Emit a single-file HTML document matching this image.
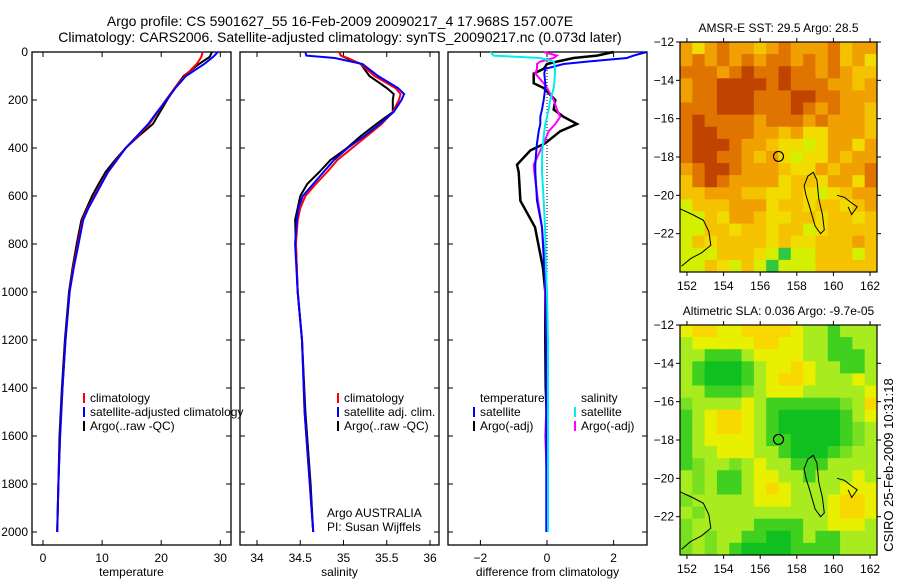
<!DOCTYPE html>
<html><head><meta charset="utf-8">
<style>
body{margin:0;background:#fff;}
svg{display:block;font-family:"Liberation Sans",sans-serif;font-size:12px;}
</style></head>
<body>
<svg id="fig" width="900" height="580" viewBox="0 0 900 580" xmlns="http://www.w3.org/2000/svg">
<rect width="900" height="580" fill="#fff"/>
<text x="340" y="26" text-anchor="middle" font-size="14">Argo profile: CS 5901627_55 16-Feb-2009 20090217_4 17.968S 157.007E</text>
<text x="340" y="42" text-anchor="middle" font-size="14">Climatology: CARS2006. Satellite-adjusted climatology: synTS_20090217.nc (0.073d later)</text>
<g id="plots"></g>
<text x="893" y="465" text-anchor="middle" transform="rotate(-90 893 465)" font-size="13">CSIRO 25-Feb-2009 10:31:18</text>
</svg>
<script>
// ---------- profile data ----------
const depthT = [0,20,50,100,150,200,250,300,350,400,450,500,550,600,650,700,800,900,1000,1200,1400,1600,1800,2000];
const tempClim = [27,26.8,26,24,22.3,20.8,19.4,18,16,14,12.4,11,9.8,8.7,7.6,6.7,5.9,5.1,4.5,3.8,3.3,2.9,2.6,2.4];
const tempSat = [29.6,28.8,27.3,24.2,22.4,20.9,19.3,17.8,15.9,14,12.5,11,9.9,8.8,7.7,6.8,6,5.2,4.5,3.8,3.3,2.9,2.6,2.4];
const tempArgo = [28.6,28.2,26.4,23.8,22.3,21,19.8,18.6,16.2,14,12.2,10.6,9.4,8.3,7.4,6.5,5.7,5,4.4,3.7,3.2,2.8,2.6,2.4];
const depthS = [0,15,25,50,100,150,175,200,250,300,350,400,450,500,550,600,650,700,800,1000,1200,1500,1800,2000];
const salClim = [34.95,34.97,35.05,35.2,35.36,35.6,35.66,35.64,35.57,35.44,35.27,35.1,34.93,34.81,34.68,34.56,34.5,34.47,34.45,34.47,34.52,34.55,34.61,34.65];
const salSat = [34.56,34.57,34.9,35.22,35.4,35.63,35.7,35.67,35.58,35.42,35.24,35.05,34.89,34.77,34.65,34.53,34.48,34.46,34.44,34.47,34.52,34.55,34.61,34.65];
const salArgo = [34.95,34.97,35.03,35.2,35.3,35.5,35.58,35.57,35.57,35.38,35.2,35.04,34.85,34.72,34.58,34.5,34.47,34.44,34.45,34.47,34.52,34.56,34.62,34.65];
const depthD = [0,15,25,40,50,70,90,130,150,200,240,270,300,330,380,410,470,500,620,730,900,1000,1200,1400,1600,1800,2000];
const dTempSat = [3.0,2.6,2.4,1.2,0.5,-0.05,-0.08,-0.05,-0.05,-0.1,-0.15,-0.2,-0.2,-0.25,-0.3,-0.32,-0.35,-0.35,-0.3,-0.15,-0.08,-0.03,-0.02,-0.02,-0.02,-0.02,-0.02];
const dTempArgo = [2.0,1.5,0.8,0.3,0,-0.1,-0.4,-0.4,-0.1,0.25,0.2,0.5,0.9,0.4,-0.05,-0.5,-0.9,-0.85,-0.8,-0.36,-0.12,-0.05,-0.05,-0.04,0.02,0.0,0.0];
const dSalSat = [-1.7,-1.6,-0.2,0.2,0.22,0.24,0.24,0.22,0.2,0.1,0.05,0,-0.05,-0.08,-0.12,-0.14,-0.15,-0.15,-0.1,-0.06,-0.03,0.0,0.03,0.03,0.03,0.03,0.03];
const dSalArgo = [-0.1,0.3,0.2,-0.2,-0.3,-0.3,-0.35,-0.1,0,0.2,0.3,0.4,0.25,0.05,-0.1,-0.2,-0.4,-0.38,-0.27,-0.15,-0.06,-0.05,-0.02,0,-0.05,0,0];
const depthTicks = [0,200,400,600,800,1000,1200,1400,1600,1800,2000];
const tempTicks = [0,10,20,30];
const salTicks = [34,34.5,35,35.5,36];
const diffTicks = [-2,0,2];
// ---------- map data ----------
const sstGrid = [
"aYaoaayaoaaaoyaa","aoaoaoaooaoaoyaY","oooaoroorooaoayy","aoorrrroroooaaya","aoorrrooorrooaaa",
"ooorrroooroaoaay","orooooaoooaoaaay","orroooaayaYYaaay","orrroaayYYlYaaYa","orrooayaYlYYayaa",
"aorroaaayYYayaao","yoroaaaaYyyYaaYo","yyaaayyYYyYlYyaa","lyyyaaaYyyYyyYya","llyYaayYYyyYyyYy",
"llyyYyyYyylYyyyy","lyYyyyyYyYYyyyay","lllyyyYlgllyyyly","llyYlylglllyyyyy"];
const slaGrid = [
"yYYyyYYYYyLLgLLL","LyyyyyYYyyLLggLL","LLgggLyyyyLLgggL","LgGGGgLyyYyLLggL","LgGGGgLyYYyLLLyL",
"LLggglLyyyLLLLLy","lLLLLyLgggggglLY","gLyYYyLgGGGGGgLy","gLyYYyLgGGGGGglL","gLyyyyLggGGGGglL",
"gLLyyyLLgGGGglLL","glLLlLyLLgggLLLL","LlLggLyyLLgLLLyL","LlLggLyYyLLLLyyy","lLLLLLyyyLLLyYYy",
"LlLLLLLLLLLLyYYy","lLLLLLggggLLyyyL","lLlLLggGGgLggLLL","lLlLgGGGGggggLLL"];
const lonTicks = [152,154,156,158,160,162];
const latTicks = [-12,-14,-16,-18,-20,-22];
const coastLon1 = [151.62,152.3,152.9,153.2,153.3,152.8,152.2,151.7];
const coastLat1 = [-20.7,-21.0,-21.3,-21.9,-22.6,-23.0,-23.3,-23.7];
const islandLon = [158.6,158.9,159.1,159.2,159.4,159.5,159.3,159.0,158.7,158.5,158.4,158.6];
const islandLat = [-19.0,-18.8,-19.2,-20.2,-21.0,-21.8,-22.0,-21.6,-20.6,-20.0,-19.5,-19.0];
const island2Lon = [160.2,160.6,161.0,161.3,161.0,160.8];
const island2Lat = [-20.0,-20.1,-20.4,-20.6,-21.0,-20.6];
const argoLon = [157.0]; const argoLat = [-17.97];
</script>
<script>
const NS='http://www.w3.org/2000/svg';
const G=document.getElementById('plots');
function el(t,a,p){const e=document.createElementNS(NS,t);for(const k in a)e.setAttribute(k,a[k]);(p||G).appendChild(e);return e;}
function txt(x,y,s,anchor,p,size){const e=el('text',{x:x,y:y,'text-anchor':anchor||'start'},p);if(size)e.setAttribute('font-size',size);e.textContent=s;return e;}
const PT=52, PB=545, Dpx=(532-52)/2000;
const yD=d=>PT+d*Dpx;
const panels=[
 {name:'temperature',x0:32,x1:231,v0:43,vs:5.91,ticks:tempTicks,label:'temperature'},
 {name:'salinity',x0:240,x1:439,v0:257,vs:86.5,base:34,ticks:salTicks,label:'salinity'},
 {name:'difference',x0:448,x1:647,v0:547,vs:33.3,base:0,ticks:diffTicks,label:'difference from climatology'}];
panels.forEach(p=>{p.fx=v=>p.v0+(v-(p.base||0))*p.vs;});
function line(p,ds,vs,col,name,w){
 const pts=ds.map((d,i)=>p.fx(vs[i]).toFixed(1)+','+yD(d).toFixed(1)).join(' ');
 const e=el('polyline',{points:pts,fill:'none',stroke:col,'stroke-width':w||2});
 
 
}
panels.forEach((p,pi)=>{
 const g=el('g',{});
 
 
 el('rect',{x:p.x0,y:PT,width:p.x1-p.x0,height:PB-PT,fill:'none',stroke:'#000','stroke-width':1.3},g);
 depthTicks.forEach(d=>{
  el('line',{x1:p.x0,x2:p.x0+5,y1:yD(d),y2:yD(d),stroke:'#000'},g);
  el('line',{x1:p.x1-5,x2:p.x1,y1:yD(d),y2:yD(d),stroke:'#000'},g);
  if(pi==0){const t=txt(28,yD(d)+4,String(d),'end',g);}
 });
 p.ticks.forEach(v=>{
  const x=p.fx(v);
  el('line',{x1:x,x2:x,y1:PB,y2:PB-5,stroke:'#000'},g);
  el('line',{x1:x,x2:x,y1:PT,y2:PT+5,stroke:'#000'},g);
  const t=txt(x,562,String(v).replace('-','\u2212'),'middle',g);
  
  
 });
 const xl=txt((p.x0+p.x1)/2,576,p.label,'middle',g);
 
 
});
const [P1,P2,P3]=panels;
line(P1,depthT,tempArgo,'#000','temp-argo-line',2);
line(P1,depthT,tempClim,'#f00','temp-climatology-line',2);
line(P1,depthT,tempSat,'#00f','temp-satellite-line',2);
line(P2,depthS,salArgo,'#000','sal-argo-line',2);
line(P2,depthS,salClim,'#f00','sal-climatology-line',2);
line(P2,depthS,salSat,'#00f','sal-satellite-line',2);
el('line',{x1:P3.fx(0),x2:P3.fx(0),y1:yD(0),y2:yD(2000),stroke:'#000','stroke-dasharray':'1,2'});
line(P3,depthD,dTempArgo,'#000','diff-temp-argo-line',2.5);
line(P3,depthD,dSalArgo,'#f0f','diff-sal-argo-line',2);
line(P3,depthD,dTempSat,'#00f','diff-temp-satellite-line',2);
line(P3,depthD,dSalSat,'#0ee','diff-sal-satellite-line',2);
function legend(x,y,items,name){
 const g=el('g',{});
 
 
 items.forEach((it,i)=>{
  const yy=y+i*14;
  if(it[1])el('rect',{x:x,y:yy-9,width:2,height:10,fill:it[1]},g);
  txt(x+7,yy,it[0],'start',g);
 });
}
legend(83,402,[['climatology','#f00'],['satellite-adjusted climatology','#00f'],['Argo(..raw -QC)','#000']],'temperature-legend');
legend(337,402,[['climatology','#f00'],['satellite adj. clim.','#00f'],['Argo(..raw -QC)','#000']],'salinity-legend');
legend(473,402,[['temperature',null],['satellite','#00f'],['Argo(-adj)','#000']],'diff-temp-legend');
legend(574,402,[['salinity',null],['satellite','#0ee'],['Argo(-adj)','#f0f']],'diff-sal-legend');
const n1=txt(327,517,'Argo AUSTRALIA');
const n2=txt(327,531,'PI: Susan Wijffels');
// ---------- maps ----------
const sstPal={r:'#c04400',o:'#e07400',a:'#f0a000',y:'#f5c200',Y:'#f2dc00',l:'#d4f000',g:'#30c840'};
const slaPal={G:'#10c020',g:'#40d020',L:'#a8ec20',l:'#78e020',y:'#e8f000',Y:'#f8d800'};
function map(top,bot,grid,pal,title,name){
 const L=680,R=877,lon0=151.62,lon1=162.38,lat0=-12,lat1=-24;
 const fx=lo=>L+(lo-lon0)/(lon1-lon0)*(R-L);
 const fy=la=>top+(la-lat0)/(lat1-lat0)*(bot-top);
 const g=el('g',{});
 
 
 const rows=grid.length, cols=grid[0].length;
 const cw=(R-L)/cols, ch=(bot-top)/rows;
 grid.forEach((row,r)=>{for(let c=0;c<cols;c++){
  el('rect',{x:L+c*cw,y:top+r*ch,width:cw+0.5,height:ch+0.5,fill:pal[row[c]]},g);
 }});
 const poly=(lo,la,closed)=>{
  const pts=lo.map((v,i)=>fx(v).toFixed(1)+','+fy(la[i]).toFixed(1)).join(' ');
  el(closed?'polygon':'polyline',{points:pts,fill:'none',stroke:'#000','stroke-width':1},g);
 };
 poly(coastLon1,coastLat1,false);
 poly(islandLon,islandLat,true);
 poly(island2Lon,island2Lat,false);
 el('circle',{cx:fx(argoLon[0]),cy:fy(argoLat[0]),r:5,fill:'none',stroke:'#000','stroke-width':1.2},g);
 el('rect',{x:L,y:top,width:R-L,height:bot-top,fill:'none',stroke:'#000','stroke-width':1.2},g);
 lonTicks.forEach(v=>{const x=fx(v);
  el('line',{x1:x,x2:x,y1:bot,y2:bot+4,stroke:'#000'},g);
  el('line',{x1:x,x2:x,y1:top,y2:top-4,stroke:'#000'},g);
  const t=txt(x,bot+18,String(v),'middle',g);});
 latTicks.forEach(v=>{const y=fy(v);
  el('line',{x1:L,x2:L-4,y1:y,y2:y,stroke:'#000'},g);
  el('line',{x1:R,x2:R+4,y1:y,y2:y,stroke:'#000'},g);
  const t=txt(L-6,y+4,String(v).replace('-','\u2212'),'end',g);});
 const tt=txt((L+R)/2,top-10,title,'middle',g);
 
 
}
map(42,272,sstGrid,sstPal,'AMSR-E SST: 29.5 Argo: 28.5','sst-map');
map(325,555,slaGrid,slaPal,'Altimetric SLA: 0.036 Argo: -9.7e-05','sla-map');
</script>
</body></html>
